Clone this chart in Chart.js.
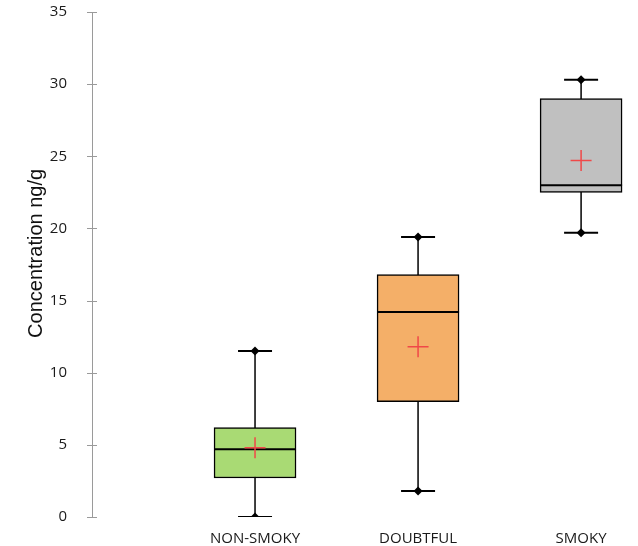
<!DOCTYPE html>
<html>
<head>
<meta charset="utf-8">
<script src="https://cdn.jsdelivr.net/npm/chart.js@4.4.1/dist/chart.umd.min.js"></script>
<style>
  html, body { margin: 0; padding: 0; background: #ffffff; }
  #wrap { width: 638px; height: 546px; }
</style>
</head>
<body>
<div id="wrap"><canvas id="boxChart" width="638" height="546"></canvas></div>
<script>
let categories = ["NON-SMOKY", "DOUBTFUL", "SMOKY"];
let minValues = [0, 1.8, 19.7];
let q1Values = [2.7, 8.0, 22.5];
let medianValues = [4.7, 14.2, 23.0];
let q3Values = [6.2, 16.8, 29.0];
let maxValues = [11.5, 19.4, 30.3];
let meanValues = [4.8, 11.8, 24.7];
let boxColors = ["#A9DA74", "#F4AF68", "#C0C0C0"];
let yTicks = [0, 5, 10, 15, 20, 25, 30, 35];

let xPos = categories.map((c, i) => i + 1);
let axisGray = "#9A9A9A";

// whisker stems + crossing tick marks on the value axis
let boxExtras = {
  id: "boxExtras",
  beforeDatasetsDraw(chart) {
    let ctx = chart.ctx;
    let x = chart.scales.x;
    let y = chart.scales.y;
    ctx.save();
    ctx.strokeStyle = "#000000";
    ctx.lineWidth = 1.5;
    xPos.forEach((p, i) => {
      let px = x.getPixelForValue(p);
      ctx.beginPath();
      ctx.moveTo(px, y.getPixelForValue(minValues[i]));
      ctx.lineTo(px, y.getPixelForValue(maxValues[i]));
      ctx.stroke();
    });
    ctx.strokeStyle = axisGray;
    ctx.lineWidth = 1;
    let ax = chart.chartArea.left;
    yTicks.forEach((t) => {
      let py = Math.round(y.getPixelForValue(t)) + 0.5;
      ctx.beginPath();
      ctx.moveTo(ax - 5, py);
      ctx.lineTo(ax + 5, py);
      ctx.stroke();
    });
    ctx.restore();
  },
};

new Chart(document.querySelector("#boxChart"), {
  type: "bar",
  data: {
    datasets: [
      {
        type: "scatter",
        data: xPos.map((p, i) => ({ x: p, y: meanValues[i] })),
        pointStyle: "cross",
        pointRadius: 10.5,
        borderColor: "#F04848",
        borderWidth: 1.5,
        order: 1,
      },
      {
        type: "scatter",
        data: xPos.map((p, i) => ({ x: p, y: minValues[i] })).concat(
          xPos.map((p, i) => ({ x: p, y: maxValues[i] }))
        ),
        pointStyle: "rectRot",
        pointRadius: 4.5,
        backgroundColor: "#000000",
        borderColor: "#000000",
        borderWidth: 0,
        order: 2,
      },
      {
        type: "scatter",
        data: xPos.map((p, i) => ({ x: p, y: minValues[i] })).concat(
          xPos.map((p, i) => ({ x: p, y: maxValues[i] }))
        ),
        pointStyle: "line",
        pointRadius: 17,
        borderColor: "#000000",
        borderWidth: 2,
        order: 3,
      },
      {
        type: "scatter",
        data: xPos.map((p, i) => ({ x: p, y: medianValues[i] })),
        pointStyle: "line",
        pointRadius: 41,
        borderColor: "#000000",
        borderWidth: 2,
        order: 4,
      },
      {
        type: "bar",
        data: xPos.map((p, i) => ({ x: p, y: [q1Values[i], q3Values[i]] })),
        backgroundColor: boxColors,
        borderColor: "#000000",
        borderWidth: 1.5,
        borderSkipped: false,
        barThickness: 82,
        order: 5,
      },
    ],
  },
  options: {
    responsive: false,
    animation: false,
    events: [],
    layout: {
      autoPadding: false,
      padding: { top: 12, right: 8, left: 0, bottom: 0 },
    },
    scales: {
      x: {
        type: "linear",
        min: 0,
        max: 3.3,
        offset: false,
        grid: { display: false, offset: false },
        border: { display: false },
        afterBuildTicks: (scale) => {
          scale.ticks = xPos.map((p) => ({ value: p }));
        },
        afterFit: (scale) => {
          scale.height = 29;
          scale.paddingLeft = 0;
          scale.paddingRight = 0;
        },
        ticks: {
          autoSkip: false,
          maxRotation: 0,
          padding: 5,
          color: "#1A1A1A",
          font: { size: 15, family: "Open Sans" },
          callback: (value) => categories[value - 1],
        },
      },
      y: {
        min: 0,
        max: 35,
        grid: { display: false },
        border: { display: true, color: axisGray, width: 1 },
        afterBuildTicks: (scale) => {
          scale.ticks = yTicks.map((t) => ({ value: t }));
        },
        afterFit: (scale) => {
          scale.width = 92;
          scale.paddingTop = 0;
          scale.paddingBottom = 0;
        },
        ticks: {
          padding: 17,
          color: "#1A1A1A",
          font: { size: 15, family: "Open Sans" },
        },
        title: {
          display: true,
          // leading spaces nudge the title up a little, like the original
          text: "    Concentration ng/g",
          color: "#111111",
          padding: { top: 24, bottom: 0 },
          font: { size: 20, family: "Liberation Sans" },
        },
      },
    },
    plugins: {
      legend: { display: false },
      tooltip: { enabled: false },
    },
  },
  plugins: [boxExtras],
});
</script>
</body>
</html>
